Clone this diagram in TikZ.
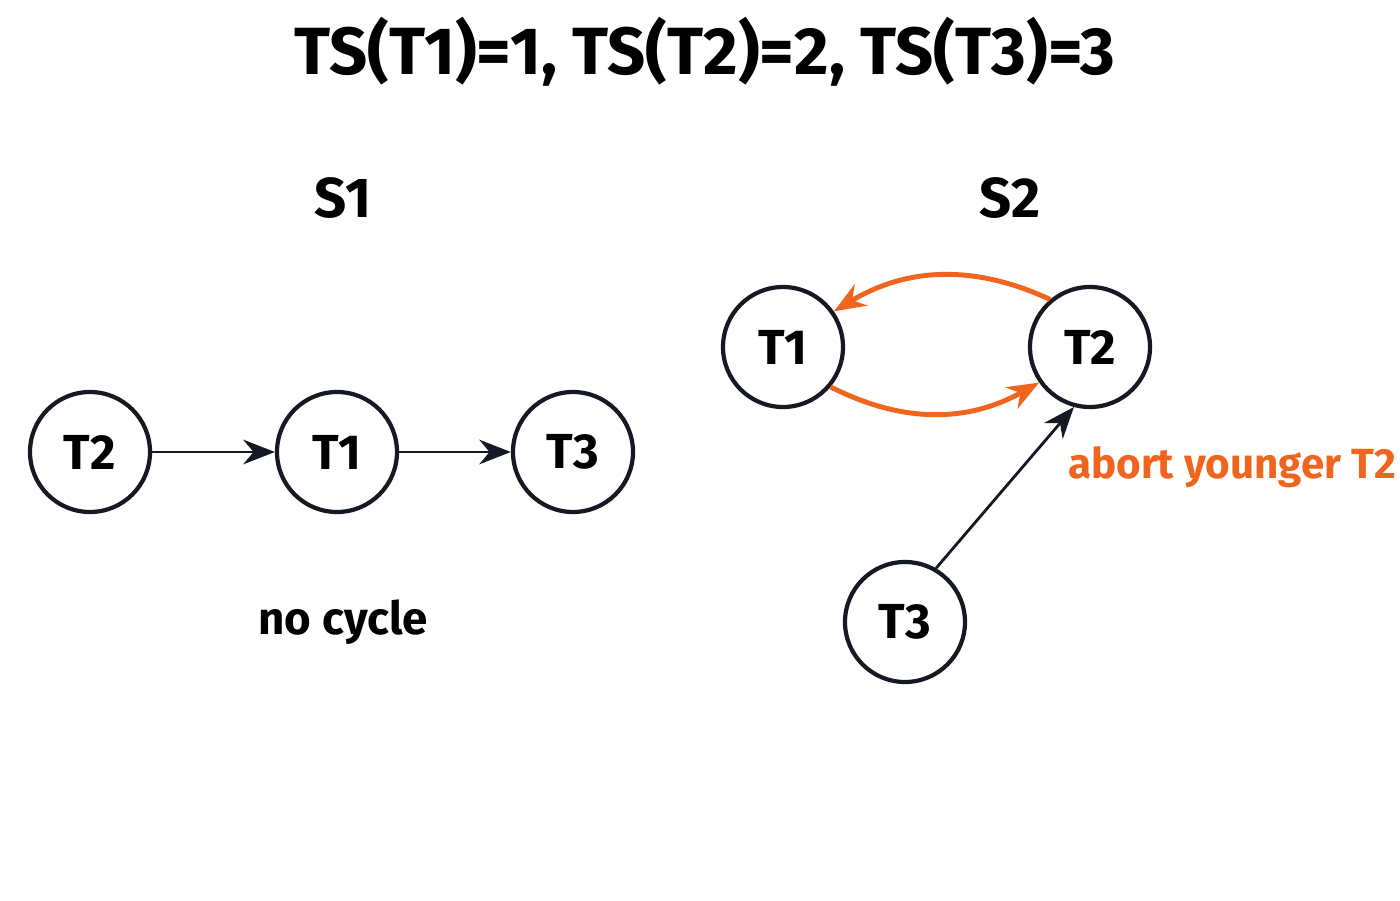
\documentclass[tikz,border=0pt]{standalone}
\usepackage{fontspec}
\setmainfont{Fira Sans}
\usetikzlibrary{arrows.meta}
\definecolor{abortorange}{RGB}{240,100,30}
\definecolor{inkblack}{RGB}{20,25,35}
\begin{document}
\begin{tikzpicture}[>={Stealth[length=9pt,width=7pt]},thick]
\tikzset{txn/.style={circle,draw=inkblack,line width=1.2pt,minimum size=1.2cm,inner sep=0pt,font=\fontsize{14}{16}\selectfont\bfseries},
  heading/.style={font=\fontsize{16}{18}\selectfont\bfseries}}
\useasboundingbox (0,0) rectangle (14,9);

\node[font=\fontsize{19}{22}\selectfont\bfseries] (title) at (7.05,8.48) {TS(T1)=1, TS(T2)=2, TS(T3)=3};
\node[heading] (s1) at (3.43,7.02) {S1};
\node[heading] (s2) at (10.1,7.02) {S2};

% S1
\node[txn] (a2) at (0.9,4.48) {T2};
\node[txn] (a1) at (3.37,4.48) {T1};
\node[txn] (a3) at (5.73,4.48) {T3};
\draw[->,inkblack] (a2) -- (a1);
\draw[->,inkblack] (a1) -- (a3);
\node[font=\fontsize{13}{15}\selectfont\bfseries] (nocycle) at (3.43,2.78) {no cycle};

% S2
\node[txn] (b1) at (7.83,5.53) {T1};
\node[txn] (b2) at (10.9,5.53) {T2};
\node[txn] (b3) at (9.05,2.78) {T3};
\draw[->,abortorange,line width=1.4pt] (b2.130) to[bend right=28] (b1.35);
\draw[->,abortorange,line width=1.4pt] (b1.-40) to[bend right=28] (b2.-145);
\draw[->,inkblack] (b3.60) -- (b2.-105);
\node[font=\fontsize{12}{14}\selectfont\bfseries,text=abortorange] (abort) at (12.32,4.33) {abort younger T2};
\end{tikzpicture}
\end{document}
